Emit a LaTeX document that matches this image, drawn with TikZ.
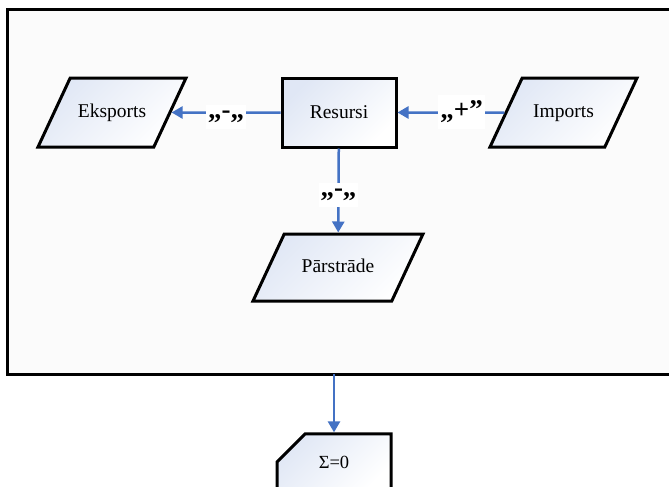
\documentclass[tikz,border=0pt]{standalone}
\usepackage{fontspec}
\setmainfont{Liberation Serif}
\usetikzlibrary{shapes.geometric,shapes.misc,arrows.meta}
\definecolor{flowblue}{HTML}{4472C4}
\definecolor{boxblue}{HTML}{E0E7F5}

\begin{document}
\begin{tikzpicture}
		[x=1pt,y=-1pt,
		box/.style={draw=black,line width=3pt,top color=boxblue,bottom color=white,shading angle=45,font=\fontsize{19.5}{22}\selectfont},
		para/.style={box,trapezium,trapezium left angle=65,trapezium right angle=115,trapezium stretches body=true,
		text height=13pt,text depth=4pt},
		flow/.style={-{Triangle[length=11pt,width=12pt]},flowblue,line width=2.5pt},
		sign/.style={fill=white,text=black,inner xsep=2pt,inner ysep=6pt,anchor=base,yshift=-6pt,font=\bfseries\fontsize{27}{29}\selectfont}]
		
		\useasboundingbox (0,0) rectangle (669,487);
		\clip (0,0) rectangle (669,487);
		\fill[white] (0,0) rectangle (669,487);
		
		% outer frame
		\draw[line width=3pt,fill=gray!3] (7,10) rectangle (690,374);
		\coordinate (framebottom) at (334,374);
		
		\node[para,inner ysep=26pt,minimum width=148pt] (eksports) at (112,112.5) {Eksports};
		\node[box,minimum width=114pt,minimum height=69pt] (resursi) at (339,112.5) {Resursi};
		\node[para,inner ysep=26pt,minimum width=147pt] (imports) at (563.5,112.5) {Imports};
		\node[para,inner ysep=25pt,minimum width=170pt] (parstrade) at (338,267.5) {Pārstrāde};
		
		\node[box,chamfered rectangle,chamfered rectangle corners=north west,
		chamfered rectangle xsep=20pt,chamfered rectangle ysep=21pt,
		minimum width=114pt,minimum height=56pt,font=\fontsize{18.5}{20}\selectfont] (sigma) at (334,462) {Σ=0};
		
		\draw[flow] (resursi) -- (eksports) node[sign,midway] {„-„};
		\draw[flow] (imports) -- (resursi) node[sign,pos=0.4] {„+”};
		\draw[flow] (resursi) -- (parstrade) node[sign,midway] {„-„};
		\draw[flow] (framebottom) -- (sigma.north -| framebottom);
		
		\end{tikzpicture}
\end{document}
